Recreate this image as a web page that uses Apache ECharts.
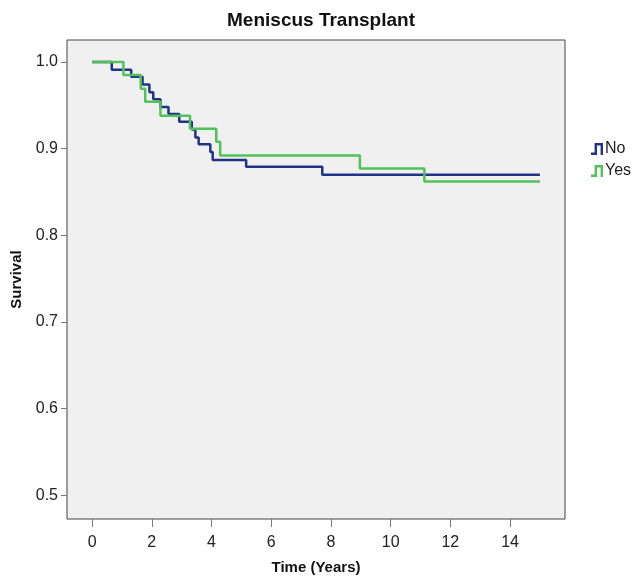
<!DOCTYPE html>
<html>
<head>
<meta charset="utf-8">
<script src="https://cdn.jsdelivr.net/npm/echarts@6/dist/echarts.min.js"></script>
<style>
  html, body { margin: 0; padding: 0; background: #fff; }
  #chart { width: 642px; height: 577px; }
</style>
</head>
<body>
<div id="chart"></div>
<script>
// survival steps (time in years, survival after event)
const noTime = [0, 0.66, 1.31, 1.69, 1.92, 2.05, 2.29, 2.56, 2.92, 3.34, 3.46, 3.57, 3.96, 4.04, 5.16, 7.71, 15];
const noSurv = [1, 0.991, 0.983, 0.974, 0.965, 0.957, 0.948, 0.940, 0.931, 0.922, 0.913, 0.905, 0.896, 0.887, 0.879, 0.870, 0.870];
const yesTime = [0, 1.05, 1.63, 1.78, 2.29, 3.28, 4.16, 4.29, 8.97, 11.13, 15];
const yesSurv = [1, 0.985, 0.969, 0.954, 0.938, 0.923, 0.908, 0.892, 0.877, 0.862, 0.862];
const xTicks = [0, 2, 4, 6, 8, 10, 12, 14];
const yTicks = [0.5, 0.6, 0.7, 0.8, 0.9, 1.0];

function pairs(t, s) {
    return t.map(function (v, i) { return [v, s[i]]; });
}

// step legend icon, like the SPSS one
const stepIcon = 'path://M0,8 L3,8 L3,0 L10,0 L10,10 L8,10 L8,2 L5,2 L5,10 L0,10 Z';

let chart = echarts.init(document.getElementById('chart'), null, {renderer: 'canvas'});
const option = {
    animation: false,
    backgroundColor: '#ffffff',
    textStyle: {fontFamily: 'Liberation Sans, Arial, sans-serif'},
    title: {
        text: 'Meniscus Transplant',
        left: 'center',
        top: 6,
        textStyle: {fontSize: 19, fontWeight: 'bold', color: '#111'}
    },
    legend: {
        orient: 'vertical',
        left: 586,
        top: 136,
        itemWidth: 14,
        itemHeight: 12,
        itemGap: 6,
        textStyle: {fontSize: 16, color: '#222', padding: [0, 0, 0, -4]},
        data: [
            {name: 'No', icon: stepIcon},
            {name: 'Yes', icon: stepIcon}
        ]
    },
    grid: {
        left: 67, right: 77, top: 40, bottom: 58,
        outerBoundsMode: 'none',
        show: true,
        backgroundColor: '#f0f0f0',
        borderColor: '#444',
        borderWidth: 1
    },
    xAxis: {
        type: 'value',
        min: -0.84,
        max: 15.84,
        name: 'Time (Years)',
        nameLocation: 'middle',
        nameGap: 41,
        nameTextStyle: {fontSize: 15, fontWeight: 'bold', color: '#111'},
        axisLine: {show: false, onZero: false},
        splitLine: {show: false},
        axisTick: {show: true, length: 8, customValues: xTicks, lineStyle: {color: '#777'}},
        axisLabel: {customValues: xTicks, fontSize: 16, color: '#222', margin: 16}
    },
    yAxis: {
        type: 'value',
        min: 0.4725,
        max: 1.0254,
        name: 'Survival',
        nameLocation: 'middle',
        nameGap: 42,
        nameTextStyle: {fontSize: 15, fontWeight: 'bold', color: '#111'},
        axisLine: {show: false, onZero: false},
        splitLine: {show: false},
        axisTick: {show: true, length: 6, customValues: yTicks, lineStyle: {color: '#777'}},
        axisLabel: {
            customValues: yTicks, fontSize: 16, color: '#222', margin: 9,
            formatter: function (v) { return v.toFixed(1); }
        }
    },
    series: [
        {
            name: 'No',
            type: 'line',
            step: 'end',
            symbol: 'none',
            itemStyle: {color: '#1f3388'},
            lineStyle: {color: '#1f3388', width: 2.5},
            data: pairs(noTime, noSurv)
        },
        {
            name: 'Yes',
            type: 'line',
            step: 'end',
            symbol: 'none',
            itemStyle: {color: '#4fc25a'},
            lineStyle: {color: '#4fc25a', width: 2.5},
            data: pairs(yesTime, yesSurv)
        }
    ]
};
chart.setOption(option, true);
</script>
</body>
</html>
